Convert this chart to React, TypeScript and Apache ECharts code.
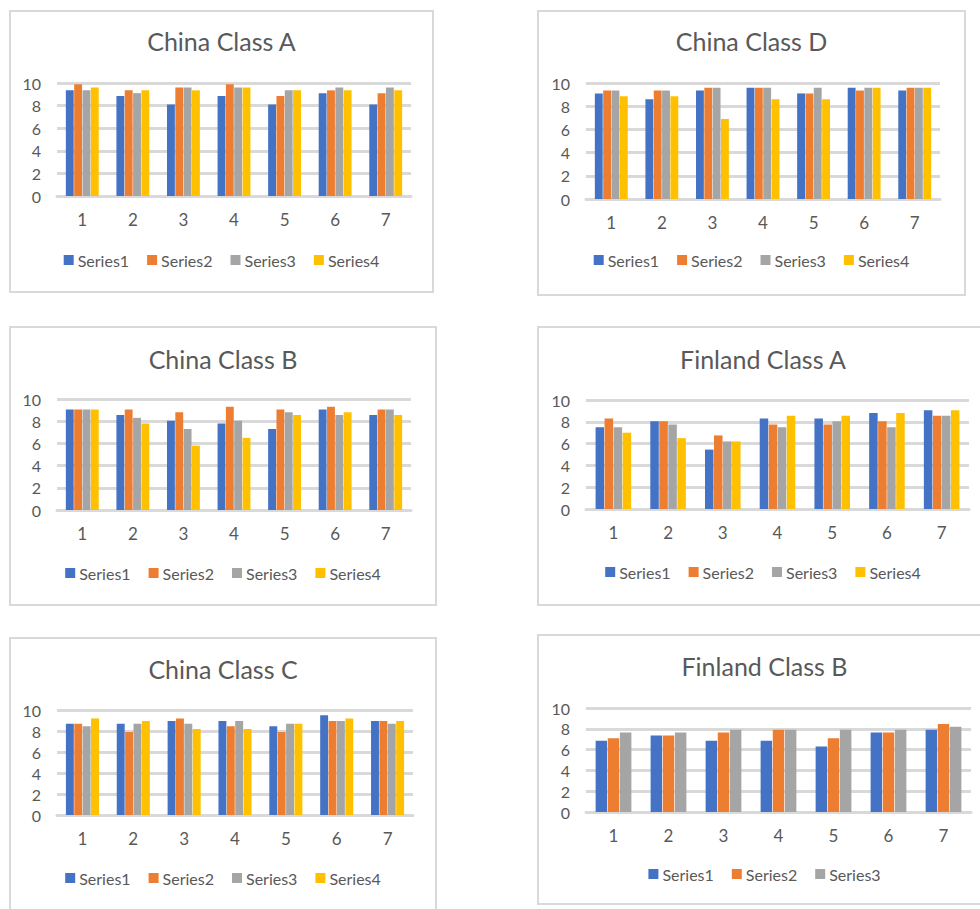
import React, { useEffect, useRef } from 'react';
import * as echarts from 'echarts';

// ---------- data ----------
const categories = ['1', '2', '3', '4', '5', '6', '7'];
const seriesNames = ['Series1', 'Series2', 'Series3', 'Series4'];
const yMin = 0;
const yMax = 10;
const yStep = 2;

const chinaA_S1 = [9.35, 8.85, 8.1, 8.85, 8.1, 9.1, 8.1];
const chinaA_S2 = [9.88, 9.35, 9.6, 9.88, 8.85, 9.35, 9.1];
const chinaA_S3 = [9.35, 9.1, 9.6, 9.6, 9.35, 9.6, 9.6];
const chinaA_S4 = [9.6, 9.35, 9.35, 9.6, 9.35, 9.35, 9.35];

const chinaD_S1 = [9.1, 8.6, 9.35, 9.6, 9.1, 9.6, 9.35];
const chinaD_S2 = [9.35, 9.35, 9.6, 9.6, 9.1, 9.35, 9.6];
const chinaD_S3 = [9.35, 9.35, 9.6, 9.6, 9.6, 9.6, 9.6];
const chinaD_S4 = [8.85, 8.85, 6.9, 8.6, 8.6, 9.6, 9.6];

const chinaB_S1 = [9.05, 8.55, 8.05, 7.8, 7.3, 9.05, 8.55];
const chinaB_S2 = [9.05, 9.05, 8.8, 9.3, 9.05, 9.3, 9.05];
const chinaB_S3 = [9.05, 8.3, 7.3, 8.05, 8.8, 8.55, 9.05];
const chinaB_S4 = [9.05, 7.8, 5.8, 6.5, 8.55, 8.8, 8.55];

const finlandA_S1 = [7.5, 8.05, 5.45, 8.3, 8.3, 8.8, 9.05];
const finlandA_S2 = [8.3, 8.05, 6.75, 7.75, 7.75, 8.05, 8.55];
const finlandA_S3 = [7.5, 7.75, 6.2, 7.5, 8.05, 7.5, 8.55];
const finlandA_S4 = [7.0, 6.5, 6.2, 8.55, 8.55, 8.8, 9.05];

const chinaC_S1 = [8.7, 8.7, 8.95, 8.95, 8.45, 9.5, 8.95];
const chinaC_S2 = [8.7, 7.9, 9.2, 8.45, 7.9, 8.95, 8.95];
const chinaC_S3 = [8.45, 8.7, 8.7, 8.95, 8.7, 8.95, 8.7];
const chinaC_S4 = [9.2, 8.95, 8.2, 8.2, 8.7, 9.2, 8.95];

const finlandB_S1 = [6.85, 7.35, 6.85, 6.85, 6.3, 7.65, 7.9];
const finlandB_S2 = [7.1, 7.35, 7.65, 7.9, 7.1, 7.65, 8.45];
const finlandB_S3 = [7.65, 7.65, 7.9, 7.9, 7.9, 7.9, 8.2];

// ---------- style / layout ----------
const COLORS = ['#4472C4', '#ED7D31', '#A5A5A5', '#FFC000'];
const TEXT = '#595959';
const GRID = '#D9D9D9';
const FONT = 'Lato, "Open Sans", sans-serif';

type Spec = {
  title: string;
  data: number[][];
  rect: [number, number, number, number]; // x, y, w, h (page coords)
  grid: [number, number, number, number]; // x0, x1, yTop, yBottom (page coords)
  titleY: number;
  legendY: number;
};

const panels: Spec[] = [
  { title: 'China Class A', data: [chinaA_S1, chinaA_S2, chinaA_S3, chinaA_S4], rect: [9, 10, 425, 283], grid: [57, 411, 83, 196], titleY: 43, legendY: 261 },
  { title: 'China Class D', data: [chinaD_S1, chinaD_S2, chinaD_S3, chinaD_S4], rect: [537, 10, 429, 286], grid: [586, 940, 83, 199], titleY: 43, legendY: 261 },
  { title: 'China Class B', data: [chinaB_S1, chinaB_S2, chinaB_S3, chinaB_S4], rect: [9, 326, 428, 280], grid: [57, 411, 399, 510], titleY: 361, legendY: 574 },
  { title: 'Finland Class A', data: [finlandA_S1, finlandA_S2, finlandA_S3, finlandA_S4], rect: [537, 326, 452, 280], grid: [586, 969, 400, 509], titleY: 361, legendY: 573 },
  { title: 'China Class C', data: [chinaC_S1, chinaC_S2, chinaC_S3, chinaC_S4], rect: [9, 637, 428, 290], grid: [57, 413, 710, 815], titleY: 671, legendY: 879 },
  { title: 'Finland Class B', data: [finlandB_S1, finlandB_S2, finlandB_S3], rect: [537, 634, 455, 271], grid: [586, 971, 708, 812], titleY: 668, legendY: 875 },
];

const BORDER = 2;

function Panel({ spec }: { spec: Spec }) {
  const ref = useRef<HTMLDivElement>(null);
  useEffect(() => {
    if (!ref.current) return;
    const chart = echarts.init(ref.current, undefined, { renderer: 'svg' });
    const ox = spec.rect[0] + BORDER;
    const oy = spec.rect[1] + BORDER;
    const [gx0, gx1, gy0, gy1] = spec.grid;
    const names = seriesNames.slice(0, spec.data.length);
    chart.setOption({
      animation: false,
      color: COLORS,
      textStyle: { fontFamily: FONT },
      title: {
        text: spec.title,
        left: 'center',
        top: spec.titleY - oy - 15,
        padding: 0,
        textStyle: { fontSize: 25, fontWeight: 'normal', color: TEXT, fontFamily: FONT },
      },
      legend: {
        data: names,
        left: 'center',
        top: spec.legendY - oy - 9,
        padding: 0,
        icon: 'rect',
        itemWidth: 10,
        itemHeight: 10,
        itemGap: 18,
        textStyle: { fontSize: 16, color: TEXT, fontFamily: FONT, padding: [0, 0, 0, -1] },
      },
      grid: { left: gx0 - ox, top: gy0 - oy, width: gx1 - gx0, height: gy1 - gy0, containLabel: false },
      xAxis: {
        type: 'category',
        data: categories,
        axisTick: { show: false },
        axisLine: { lineStyle: { color: GRID, width: 3 } },
        axisLabel: { color: TEXT, fontSize: 17, margin: 15, fontFamily: FONT },
      },
      yAxis: {
        type: 'value',
        min: yMin,
        max: yMax,
        interval: yStep,
        axisLine: { show: false },
        axisTick: { show: false },
        axisLabel: { color: TEXT, fontSize: 16, margin: 16, fontFamily: FONT },
        splitLine: { lineStyle: { color: GRID, width: 3 } },
      },
      series: spec.data.map((d, i) => ({
        type: 'bar',
        name: names[i],
        data: d,
        barGap: '6%',
        barCategoryGap: '35%',
      })),
    });
    return () => chart.dispose();
  }, [spec]);
  const [x, y, w, h] = spec.rect;
  return (
    <div
      style={{
        position: 'absolute',
        left: x,
        top: y,
        width: w,
        height: h,
        border: `${BORDER}px solid ${GRID}`,
        boxSizing: 'border-box',
        background: '#fff',
      }}
    >
      <div ref={ref} style={{ width: w - 2 * BORDER, height: h - 2 * BORDER }} />
    </div>
  );
}

export default function App() {
  return (
    <div
      style={{
        position: 'fixed',
        left: 0,
        top: 0,
        width: 980,
        height: 909,
        overflow: 'hidden',
        background: '#fff',
      }}
    >
      {panels.map((p) => (
        <Panel key={p.title} spec={p} />
      ))}
    </div>
  );
}
